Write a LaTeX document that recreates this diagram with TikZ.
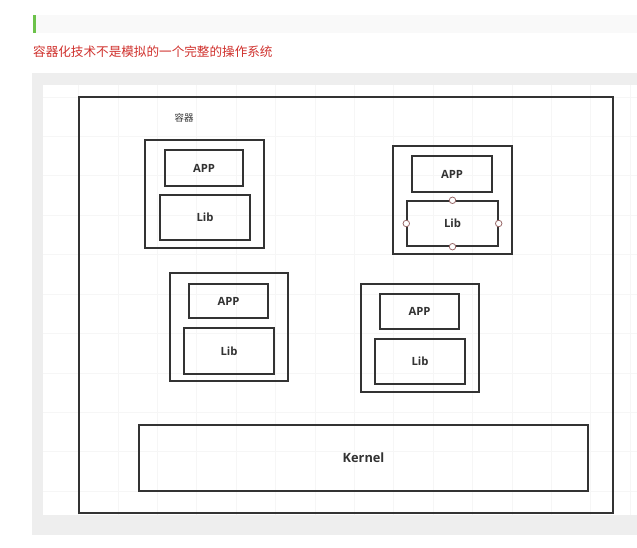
\documentclass[tikz,border=0pt]{standalone}
\usepackage{fontspec}
\setmainfont{Open Sans}
\newfontfamily\cjkfont{Noto Sans CJK SC}
\usetikzlibrary{positioning}
\definecolor{noteRed}{HTML}{D0312D}
\definecolor{noteGreen}{HTML}{6CC24A}
\definecolor{frameGrey}{HTML}{EEEEEE}
\definecolor{gridGrey}{HTML}{F6F6F6}
\definecolor{lineDark}{HTML}{333333}
\definecolor{handleRim}{HTML}{9A6A6A}

\begin{document}
\begin{tikzpicture}[x=1pt,y=-1pt,container/.style={draw=lineDark,line width=1.8pt,inner sep=0pt},part/.style={draw=lineDark,line width=1.4pt,inner sep=0pt,font=\bfseries\fontsize{11.3}{13}\selectfont,text=lineDark},handle/.style={circle,draw=handleRim,fill=white,line width=0.8pt,inner sep=0pt,minimum size=6.5pt}]
\useasboundingbox (0,0) rectangle (637,548);
% screenshot background
\fill[white] (0,0) rectangle (637,548);
\fill[gray!5] (33,15) rectangle (637,33);
\fill[noteGreen] (33,15) rectangle (36,33);
\node[anchor=west,inner sep=0pt,text=noteRed,font=\cjkfont\fontsize{12.6}{14}\selectfont] (title) at (33,52) {容器化技术不是模拟的一个完整的操作系统};
\fill[frameGrey] (32,73) rectangle (637,535);
\fill[white] (43,85) rectangle (637,515);
\foreach \gx in {78.5,117.9,...,637} \draw[gridGrey,line width=0.6pt] (\gx,85) -- (\gx,515);
\foreach \gy in {97,136.4,...,515} \draw[gridGrey,line width=0.6pt] (43,\gy) -- (637,\gy);
% host frame
\node[container,minimum width=534pt,minimum height=416pt] (host) at (346,305) {};
\node[font=\cjkfont\fontsize{9.5}{11}\selectfont,text=lineDark] (label) at (184,118) {容器};
% containers
\node[container,minimum width=119pt,minimum height=108pt] (c1) at (204.5,194) {};
\node[part,minimum width=78pt,minimum height=36pt] (app1) at (204,168) {APP};
\node[part,minimum width=90pt,minimum height=45pt] (lib1) at (205,217.5) {Lib};
\node[container,minimum width=119pt,minimum height=108pt] (c2) at (452.5,200) {};
\node[part,minimum width=80pt,minimum height=36pt] (app2) at (452,174) {APP};
\node[part,minimum width=91pt,minimum height=45pt] (lib2) at (452.5,223.5) {Lib};
\node[container,minimum width=118pt,minimum height=108pt] (c3) at (229,327) {};
\node[part,minimum width=79pt,minimum height=34pt] (app3) at (228.5,301) {APP};
\node[part,minimum width=90pt,minimum height=46pt] (lib3) at (229,351) {Lib};
\node[container,minimum width=118pt,minimum height=108pt] (c4) at (420,338) {};
\node[part,minimum width=79pt,minimum height=35pt] (app4) at (419.5,311.5) {APP};
\node[part,minimum width=90pt,minimum height=45pt] (lib4) at (420,361.5) {Lib};
% selection handles
\node[handle] (h1) at (lib2.north) {};
\node[handle] (h2) at (lib2.south) {};
\node[handle] (h3) at (lib2.west) {};
\node[handle] (h4) at (lib2.east) {};
% kernel
\node[part,minimum width=449pt,minimum height=66pt,font=\bfseries\fontsize{12.8}{14}\selectfont] (kernel) at (363.5,458) {Kernel};
\end{tikzpicture}
\end{document}
